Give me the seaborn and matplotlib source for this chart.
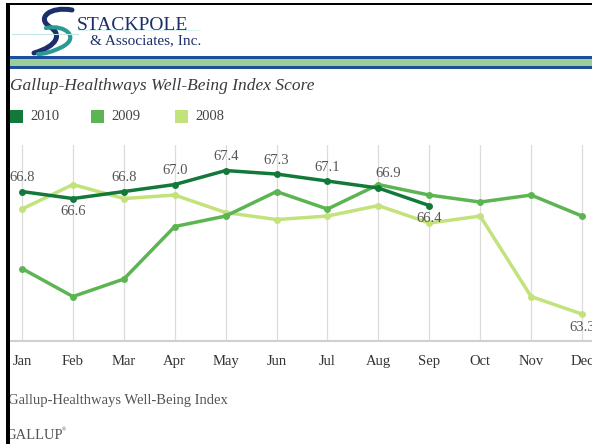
import numpy as np
import pandas as pd
import matplotlib
matplotlib.use("Agg")
import matplotlib.pyplot as plt
import seaborn as sns
from matplotlib.patches import Rectangle, PathPatch
from matplotlib.lines import Line2D
from matplotlib.path import Path

# ---------------- data ----------------
months = ["Jan", "Feb", "Mar", "Apr", "May", "Jun", "Jul", "Aug", "Sep", "Oct", "Nov", "Dec"]
years = ["2010", "2009", "2008"]
score_2010 = [66.8, 66.6, 66.8, 67.0, 67.4, 67.3, 67.1, 66.9, 66.4]
score_2009 = [64.6, 63.8, 64.3, 65.8, 66.1, 66.8, 66.3, 67.0, 66.7, 66.5, 66.7, 66.1]
score_2008 = [66.3, 67.0, 66.6, 66.7, 66.2, 66.0, 66.1, 66.4, 65.9, 66.1, 63.8, 63.3]

series = {"2010": score_2010, "2009": score_2009, "2008": score_2008}
rows = []
for yr, vals in series.items():
    for i, v in enumerate(vals):
        rows.append({"year": yr, "pos": i, "month": months[i], "score": v})
df = pd.DataFrame(rows)

colors = {"2010": "#13793a", "2009": "#5cb552", "2008": "#c4e27c"}

# ---------------- figure ----------------
W, H = 592, 444
sns.set_theme(style="white")
plt.rcParams["font.family"] = ["Liberation Serif", "DejaVu Serif"]

fig = plt.figure(figsize=(W / 100, H / 100), dpi=100)
fig.patch.set_facecolor("white")


def fx(px):
    return px / W


def fy(py):
    return 1 - py / H


# plot area: Jan at x=22, Dec at x=582, axis line at y=341, top at y=145
left_px, right_px, top_px, bot_px = 10, 600, 145, 341
ax = fig.add_axes([fx(left_px), fy(bot_px), fx(right_px) - fx(left_px), fy(top_px) - fy(bot_px)])
ppu = (582 - 22) / 11.0
ax.set_xlim(-(22 - left_px) / ppu, 11 + (right_px - 582) / ppu)
ax.set_ylim(62.53, 68.13)

sns.lineplot(data=df, x="pos", y="score", hue="year", hue_order=["2008", "2009", "2010"],
             palette=colors, marker="o", markersize=5, markeredgewidth=0,
             linewidth=2.5, sort=False, legend=False, ax=ax)

ax.set_xticks(range(len(months)))
ax.set_xticklabels(months)
ax.set_yticks([])
ax.set_xlabel("")
ax.set_ylabel("")
ax.tick_params(axis="x", length=0, pad=10, labelsize=10.5, labelcolor="#333333")
ax.grid(axis="x", color="#dcdcdc", linewidth=0.9)
ax.grid(axis="y", visible=False)
ax.set_axisbelow(True)
for s in ["top", "right", "left"]:
    ax.spines[s].set_visible(False)
ax.spines["bottom"].set_color("#d0d0d0")
ax.spines["bottom"].set_linewidth(1.5)
ax.patch.set_alpha(0)

# value labels (2010 series + last 2008 point)
label_style = dict(fontsize=10.5, color="#555555", ha="center", va="center",
                   textcoords="offset points", annotation_clip=False)
offsets_2010 = [(0, 10), (0, -9.5), (0, 10), (0, 10), (0, 10), (0, 10), (0, 10), (7, 10.5), (0, -9.5)]
for i, v in enumerate(score_2010):
    ax.annotate(f"{v:.1f}", (i, v), xytext=offsets_2010[i], **label_style)
ax.annotate(f"{score_2008[-1]:.1f}", (11, score_2008[-1]), xytext=(0, -9.5), **label_style)

# ---------------- header ----------------
def stroke(pts, color, lw):
    verts = [(fx(x), fy(y)) for x, y in pts]
    codes = [Path.MOVETO] + [Path.CURVE4] * (len(verts) - 1)
    fig.add_artist(PathPatch(Path(verts, codes), fill=False, edgecolor=color, lw=lw,
                             capstyle="round", transform=fig.transFigure))

# logo swoosh
fig.add_artist(Line2D([fx(12), fx(78)], [fy(34), fy(34)], color="#c4e6e6", lw=0.8))
fig.add_artist(Line2D([fx(78), fx(200)], [fy(30), fy(30)], color="#d4eeee", lw=0.6))
stroke([(72, 10), (50, 6), (36, 18), (50, 27), (62, 34), (58, 46), (34, 53)], "#1b2f6b", 3.6)
stroke([(46, 28), (66, 24), (80, 38), (62, 47), (52, 52), (44, 54), (38, 54)], "#2a9a93", 3.0)
fig.text(fx(77), fy(26), "STACKPOLE", fontsize=14, color="#1b2f6b", ha="left", va="center")
fig.text(fx(90), fy(40.5), "& Associates, Inc.", fontsize=11, color="#1b2f6b", ha="left", va="center")

# header band
fig.add_artist(Rectangle((fx(7), fy(58.7)), 1, fy(56) - fy(58.7), color="#1d4e9e", lw=0))
fig.add_artist(Rectangle((fx(7), fy(66)), 1, fy(58.7) - fy(66), color="#9ccf96", lw=0))
fig.add_artist(Rectangle((fx(7), fy(68.7)), 1, fy(66) - fy(68.7), color="#1d4e9e", lw=0))

# title
fig.text(fx(10), fy(86), "Gallup-Healthways Well-Being Index Score", fontsize=12.5,
         style="italic", color="#3a3a3a", ha="left", va="center")

# legend
leg_sq = [(10, "2010", 30), (91, "2009", 111), (175, "2008", 195)]
for sx, yr, tx in leg_sq:
    fig.add_artist(Rectangle((fx(sx), fy(123)), fx(13), fy(110) - fy(123), color=colors[yr], lw=0))
    fig.text(fx(tx), fy(116.5), yr, fontsize=10.5, color="#444444", ha="left", va="center")

# footer
fig.text(fx(8), fy(400), "Gallup-Healthways Well-Being Index", fontsize=10.5,
         color="#555555", ha="left", va="center")
fig.text(fx(5), fy(435), "GALLUP", fontsize=10.5, color="#555555", ha="left", va="center")
fig.text(fx(62), fy(430), "\u00ae", fontsize=4, color="#555555", ha="left", va="center")

# black frame (left and top)
fig.add_artist(Rectangle((fx(6), 0), fx(3.5), fy(3), color="black", lw=0, zorder=10))
fig.add_artist(Rectangle((fx(6), fy(5.5)), 1, fy(3) - fy(5.5), color="black", lw=0, zorder=10))
fig.add_artist(Rectangle((0, 0), fx(6), 1, color="white", lw=0, zorder=10))

fig.savefig("out.png", dpi=100)
